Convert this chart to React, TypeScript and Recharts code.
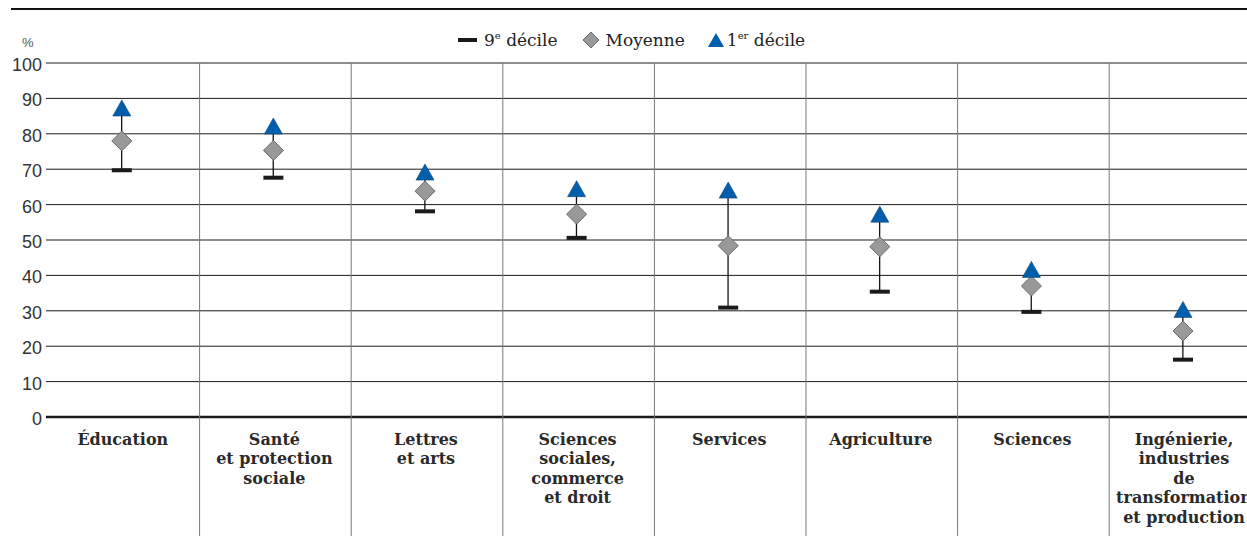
import React from 'react';
import {
  ComposedChart,
  Bar,
  Scatter,
  XAxis,
  YAxis,
  CartesianGrid,
} from 'recharts';

const categories = [
  'Éducation',
  'Santé\net protection\nsociale',
  'Lettres\net arts',
  'Sciences\nsociales,\ncommerce\net droit',
  'Services',
  'Agriculture',
  'Sciences',
  'Ingénierie,\nindustries\nde\ntransformation\net production',
];
const decile9 = [69.7, 67.6, 58.1, 50.6, 30.9, 35.4, 29.7, 16.2];
const moyenne = [78.0, 75.3, 63.8, 57.3, 48.4, 48.1, 37.0, 24.3];
const decile1 = [87.3, 82.2, 69.2, 64.5, 64.1, 57.3, 41.7, 30.4];
const yTicks = [0, 10, 20, 30, 40, 50, 60, 70, 80, 90, 100];

const data = categories.map((name, i) => ({
  name,
  d9: decile9[i],
  moy: moyenne[i],
  d1: decile1[i],
  range: [decile9[i], decile1[i]],
}));

// layout
const LEFT = 46;
const BAND = 151.6;
const TOP = 63;
const BOTTOM = 417;
const W = LEFT + BAND * 8;
const H = 536;

const BLUE = '#005fad';

const Whisker = (props: any) => {
  const { x, y, width, height } = props;
  const cx = x + width / 2;
  return <line x1={cx} x2={cx} y1={y} y2={y + height} stroke="#111" strokeWidth={1.3} />;
};

const DecileBar = (props: any) => {
  const { cx, cy } = props;
  return <rect x={cx - 10} y={cy - 2} width={20} height={4} fill="#1a1a1a" />;
};

const Diamond = (props: any) => {
  const { cx, cy } = props;
  const r = 10;
  return (
    <polygon
      points={`${cx},${cy - r} ${cx + r},${cy} ${cx},${cy + r} ${cx - r},${cy}`}
      fill="#999"
      stroke="#6b6b6b"
      strokeWidth={1}
    />
  );
};

const Triangle = (props: any) => {
  const { cx, cy } = props;
  return (
    <polygon
      points={`${cx},${cy - 8} ${cx + 9},${cy + 8} ${cx - 9},${cy + 8}`}
      fill={BLUE}
      stroke="#0b3f73"
      strokeWidth={0.6}
    />
  );
};

const XTick = (props: any) => {
  const { x, payload } = props;
  const lines = String(payload.value).split('\n');
  const sep = x + BAND / 2 + 2;
  return (
    <g>
      <line x1={sep} x2={sep} y1={TOP} y2={H} stroke="#777" strokeWidth={1} />
      <text
        x={x + 1}
        y={BOTTOM + 28}
        textAnchor="middle"
        fontFamily="'DejaVu Serif', serif"
        fontWeight="bold"
        fontSize={16}
        fill="#2a2a2a"
      >
        {lines.map((l, i) => (
          <tspan key={i} x={x + 1} dy={i === 0 ? 0 : 19.5}>
            {l}
          </tspan>
        ))}
      </text>
    </g>
  );
};

const YTick = (props: any) => {
  const { y, payload } = props;
  return (
    <text
      x={42}
      y={y + 2}
      textAnchor="end"
      dominantBaseline="central"
      fontFamily="'Liberation Sans', Arial, sans-serif"
      fontSize={18}
      fill="#333"
    >
      {payload.value}
    </text>
  );
};

const legendText: React.CSSProperties = {
  fontFamily: "'DejaVu Serif', serif",
  fontSize: 17,
  color: '#222',
};

const App = () => {
  return (
    <div style={{ position: 'absolute', left: 0, top: 0, width: W, height: H }}>
      <div style={{ position: 'absolute', left: 11, top: 8, width: 1240, height: 2, background: '#111' }} />
      <div
        style={{
          position: 'absolute',
          left: 22,
          top: 35,
          fontFamily: "'Liberation Sans', sans-serif",
          fontSize: 13,
          color: '#555',
        }}
      >
        %
      </div>
      <div
        style={{
          position: 'absolute',
          left: 458,
          top: 30,
          display: 'flex',
          alignItems: 'center',
          ...legendText,
        }}
      >
        <svg width={20} height={6} style={{ marginRight: 6 }}>
          <rect x={0} y={1} width={19} height={4} fill="#1a1a1a" />
        </svg>
        <span>
          9<sup style={{ fontSize: 10 }}>e</sup> décile
        </span>
        <svg width={18} height={18} style={{ marginLeft: 24, marginRight: 6 }}>
          <polygon points="9,1 17,9 9,17 1,9" fill="#999" stroke="#6b6b6b" strokeWidth={1} />
        </svg>
        <span>Moyenne</span>
        <svg width={18} height={16} style={{ marginLeft: 22, marginRight: 2 }}>
          <polygon points="9,1 17,15 1,15" fill={BLUE} />
        </svg>
        <span>
          1<sup style={{ fontSize: 10 }}>er</sup> décile
        </span>
      </div>
      <div style={{ position: 'absolute', left: 0, top: 0 }}>
        <ComposedChart
          width={W}
          height={H}
          data={data}
          margin={{ top: TOP, right: 0, bottom: 0, left: 0 }}
        >
          <CartesianGrid vertical={false} stroke="#1a1a1a" strokeWidth={1} />
          <XAxis
            dataKey="name"
            interval={0}
            tick={<XTick />}
            tickLine={false}
            axisLine={{ stroke: '#1a1a1a', strokeWidth: 2.5 }}
            height={H - BOTTOM}
          />
          <YAxis
            domain={[0, 100]}
            ticks={yTicks}
            width={LEFT}
            tick={<YTick />}
            axisLine={false}
            tickLine={false}
          />
          <Bar dataKey="range" shape={<Whisker />} isAnimationActive={false} />
          <Scatter dataKey="d9" shape={<DecileBar />} isAnimationActive={false} />
          <Scatter dataKey="moy" shape={<Diamond />} isAnimationActive={false} />
          <Scatter dataKey="d1" shape={<Triangle />} isAnimationActive={false} />
        </ComposedChart>
      </div>
    </div>
  );
};

export default App;
